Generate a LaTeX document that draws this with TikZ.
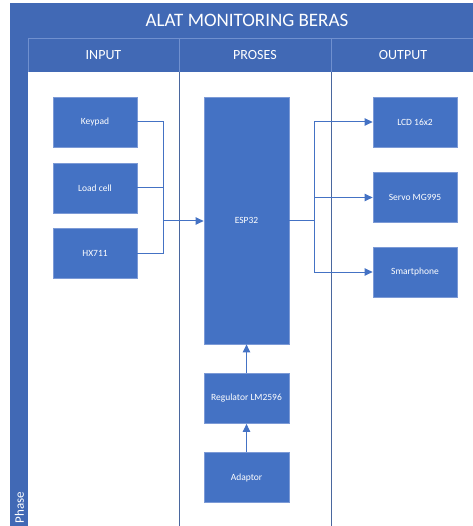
\documentclass[tikz,border=0pt]{standalone}
\usepackage{fontspec}
\setmainfont{Carlito}
\usepackage{xcolor}
\usetikzlibrary{arrows.meta, positioning}
\definecolor{boxblue}{HTML}{4472C4}
\definecolor{barblue}{HTML}{4169B5}
\definecolor{edgeblue}{HTML}{7C9AD6}
\definecolor{laneline}{HTML}{4A679E}

\begin{document}
\begin{tikzpicture}[
        x=1pt, y=-1pt,
        block/.style={draw=edgeblue, line width=0.8pt, fill=boxblue, text=white, align=center, minimum width=84pt, minimum height=50pt, font=\fontsize{9.5}{11}\selectfont},
        bar/.style={fill=barblue, draw=none},
        header/.style={text=white, font=\fontsize{14}{16}\selectfont},
        link/.style={draw=boxblue, line width=1pt},
        feed/.style={link, -{Triangle[length=8pt, width=7.5pt]}}
        ]
        \useasboundingbox (0,0) rectangle (472,526);

        % swimlane frame
        \fill[bar] (10,3) rectangle (476,38);
        \fill[bar] (10,38) rectangle (476,72);
        \fill[bar] (10,38) rectangle (28,530);
        \draw[edgeblue!80!barblue, line width=0.6pt] (28,38) -- (476,38) (28,38) -- (28,72);
        \draw[edgeblue!80!barblue, line width=0.6pt] (179,38) -- (179,72) (331,38) -- (331,72);
        \draw[laneline, line width=0.8pt] (179,72) -- (179,530) (331,72) -- (331,530);

        \node[header, font=\fontsize{19}{21}\selectfont] (title) at (247,20.5) {ALAT MONITORING BERAS};
        \node[header] (input) at (103.5,55) {INPUT};
        \node[header] (proses) at (255,55) {PROSES};
        \node[header] (output) at (403,55) {OUTPUT};
        \node[header, font=\fontsize{13}{15}\selectfont, rotate=90, anchor=west] (phase) at (19.5,527) {Phase};

        % input
        \node[block] (keypad) at (95,122) {Keypad};
        \node[block] (loadcell) at (95,188) {Load cell};
        \node[block] (hx) at (95,253.5) {HX711};

        % proses
        \node[block, minimum width=85pt, minimum height=247pt] (esp) at (246.5,220.5) {ESP32};
        \node[block, minimum width=85pt] (reg) at (246.5,398.5) {Regulator LM2596};
        \node[block, minimum width=85pt] (adaptor) at (246.5,477.5) {Adaptor};

        % output
        \node[block] (lcd) at (415,122) {LCD 16x2};
        \node[block] (servo) at (415,197.5) {Servo MG995};
        \node[block] (phone) at (415,272) {Smartphone};

        \coordinate (inbus) at (163,221);
        \coordinate (outbus) at (314,221);

        \draw[link] (keypad.east) -| (inbus);
        \draw[link] (loadcell.east) -| (inbus);
        \draw[link] (hx.east) -| (inbus);
        \draw[feed] (inbus) -- (esp.west |- inbus);

        \draw[link] (esp.east |- outbus) -- (outbus);
        \draw[feed] (outbus) |- (lcd.west);
        \draw[feed] (outbus) |- (servo.west);
        \draw[feed] (outbus) |- (phone.west);

        \draw[feed] (adaptor) -- (reg);
        \draw[feed] (reg) -- (esp);
    \end{tikzpicture}
\end{document}
